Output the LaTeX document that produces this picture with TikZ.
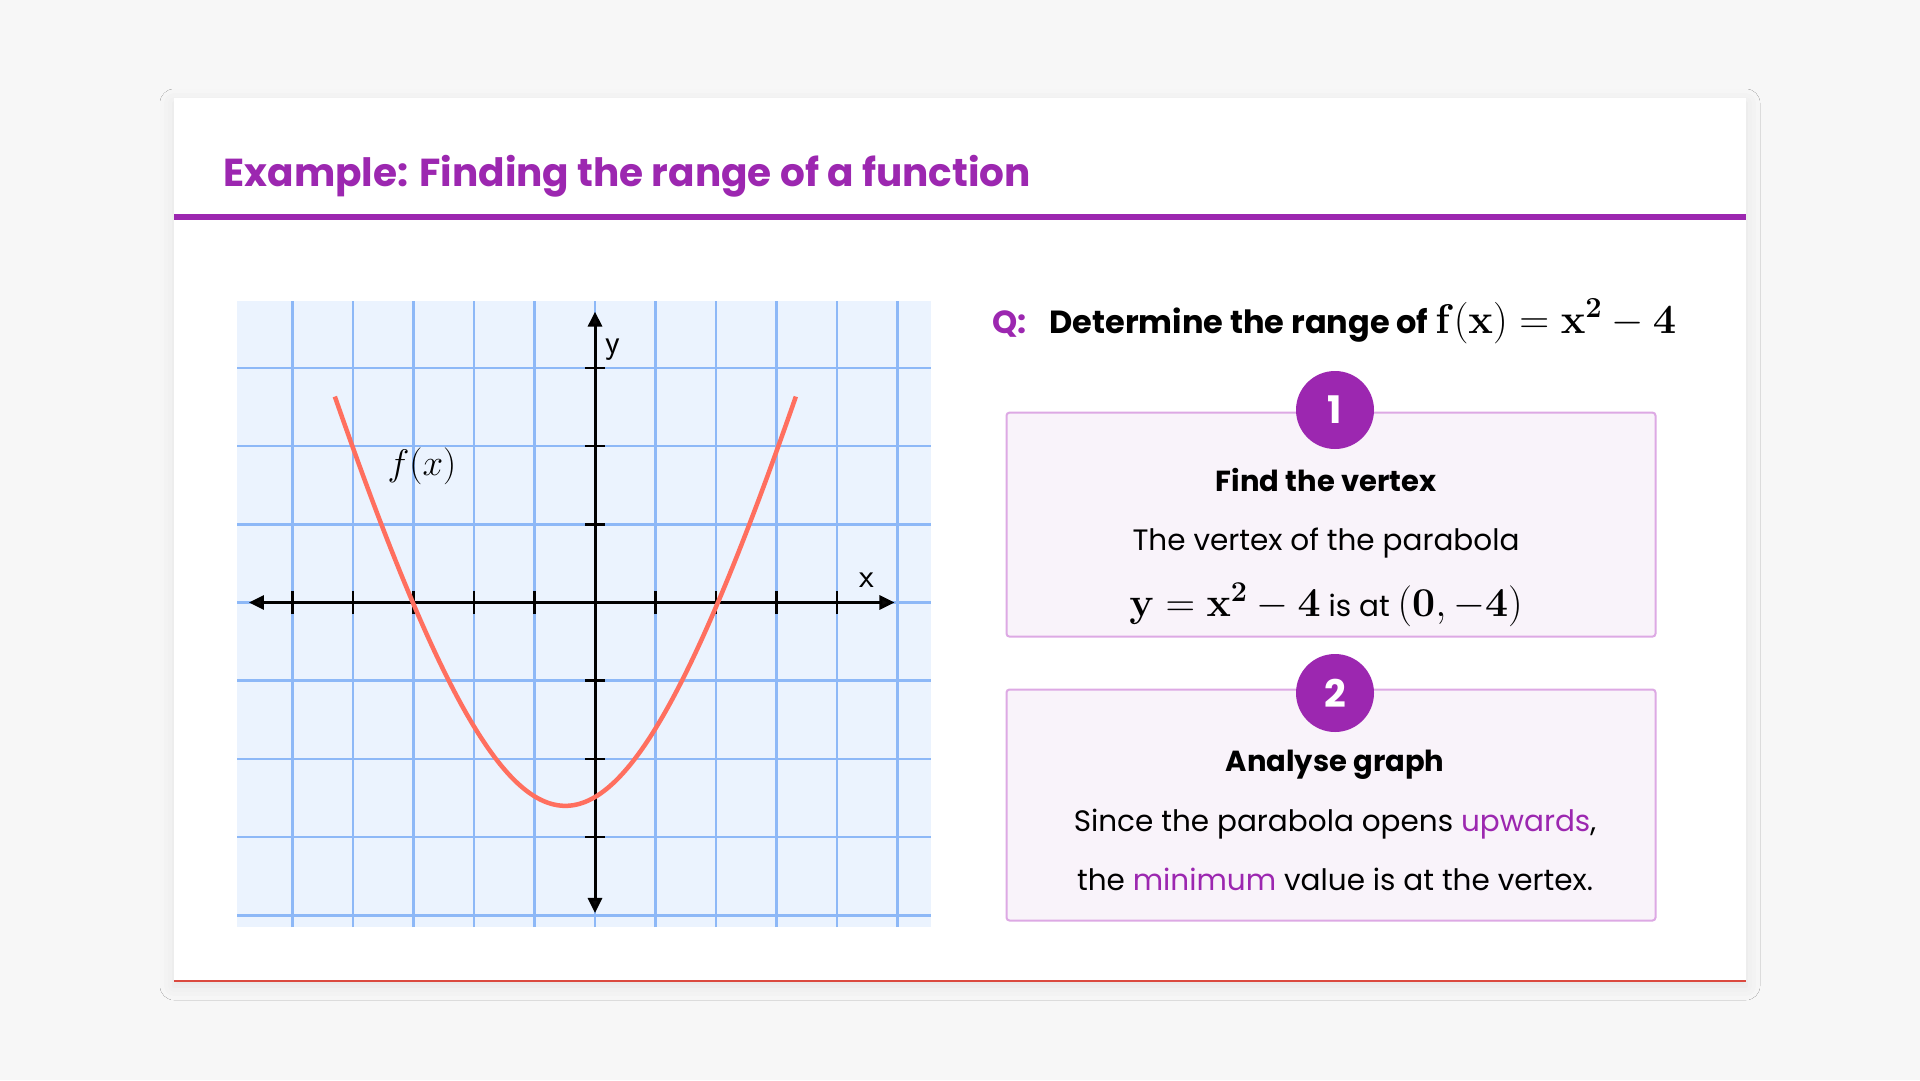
\documentclass[tikz,border=0pt]{standalone}
\usepackage{fix-cm}
\usepackage[no-math]{fontspec}
\setmainfont{Poppins}
\usetikzlibrary{arrows.meta,shadows.blur}
\definecolor{pagegray}{HTML}{F7F7F7}
\definecolor{accent}{HTML}{9C27B0}
\definecolor{stepfill}{HTML}{F9F3FA}
\definecolor{stepline}{HTML}{DDA9E4}
\definecolor{gridblue}{HTML}{8DB8F7}
\definecolor{panelblue}{HTML}{EBF3FE}
\definecolor{coral}{HTML}{FF6F5F}
\definecolor{edgered}{HTML}{DB4A3F}
\newcommand{\fs}[1]{\fontsize{#1}{#1}\selectfont}

\begin{document}
\begin{tikzpicture}
		[	x=1pt,y=-1pt,
		card/.style={fill=white,blur shadow={shadow xshift=0pt,shadow yshift=-5pt,shadow blur radius=14pt,shadow opacity=8}},
		stepbox/.style={rectangle,draw=stepline,fill=stepfill,line width=2pt,rounded corners=3pt,minimum width=649pt},
		badge/.style={circle,fill=accent,text=white,minimum size=78pt,inner sep=0pt,font=\bfseries\fs{38}},
		head/.style={font=\bfseries\fs{29},anchor=base},
		body/.style={font=\fs{29.5},anchor=base},
		gridline/.style={draw=gridblue,line width=2.5pt},
		axis/.style={line width=3pt,>={Triangle[length=15pt,width=14pt]},<->},
		tick/.style={line width=2.6pt},
		axislabel/.style={font=\sffamily\fs{34}}
		]
\useasboundingbox[fill=pagegray] (0,0) rectangle (1920,1080);
\fill[card] (174,98) rectangle (1746,981);
\draw[edgered,line width=1.2pt] (174,981) -- (1746,981);
\fill[accent] (174,214) rectangle (1746,220);
\node[anchor=base west,font=\bfseries\fs{39},text=accent] (title) at (220,186) {Example: Finding the range of a function};

% graph panel
\begin{scope}[shift={(595,602.5)},x=60.5pt,y=78.2pt]
	\fill[panelblue] (-5.91,-4.15) rectangle (5.55,3.86);
	\draw[gridline,step=1] (-5.91,-4.15) grid (5.55,3.86);
	\coordinate (xl) at (-5.72,0);
	\coordinate (xr) at (4.95,0);
	\coordinate (yb) at (0,-3.97);
	\coordinate (yt) at (0,3.72);
	\draw[axis] (xl) -- (xr);
	\draw[axis] (yb) -- (yt);
	\draw[tick] (-5,-.15) -- (-5,.15) (-4,-.15) -- (-4,.15) (-3,-.15) -- (-3,.15)
		(-2,-.15) -- (-2,.15) (-1,-.15) -- (-1,.15) (1,-.15) -- (1,.15)
		(2,-.15) -- (2,.15) (3,-.15) -- (3,.15) (4,-.15) -- (4,.15);
	\draw[tick] (-.16,3) -- (.16,3) (-.16,2) -- (.16,2) (-.16,1) -- (.16,1)
		(-.16,-1) -- (.16,-1) (-.16,-2) -- (.16,-2) (-.16,-3) -- (.16,-3);
	\draw[coral,line width=4.5pt] plot[domain=-4.3:3.32,samples=90,smooth] (\x,{-2.6+2.83*(sqrt(9+(\x+0.49)^2)-3)});
	\node[axislabel] (ylab) at (0.30,3.23) {y};
	\node[axislabel] (xlab) at (4.5,0.29) {x};
	\node[font=\fs{37}] (fx) at (-2.86,1.74) {$f(x)$};
\end{scope}

% question
\node[anchor=base west,font=\bfseries\fs{32},text=accent] (q) at (989,333) {Q:};
\node[anchor=base west,font=\bfseries\fs{32}] (question) at (1046,333) {Determine the range of {\fs{41.5}$\mathbf{f(x)=x^2-4}$}};

% step 1
\node[stepbox,minimum height=224pt] (vertexbox) at (1331,524.6) {};
\node[badge] (one) at (1335,410) {1};
\node[head] (vertexhead) at (1326,491) {Find the vertex};
\node[body] (vertextext) at (1326,550) {The vertex of the parabola};
\node[body] (vertexmath) at (1326,616) {{\fs{41}$\mathbf{y=x^2-4}$} is at {\fs{41}$\mathbf{(0,-4)}$}};

% step 2
\node[stepbox,minimum height=231pt] (graphbox) at (1331,805) {};
\node[badge] (two) at (1335,693) {2};
\node[head] (graphhead) at (1335,771) {Analyse graph};
\node[body] (graphtext) at (1335,831) {Since the parabola opens \textcolor{accent}{upwards},};
\node[body] (graphtextb) at (1335,890) {the \textcolor{accent}{minimum} value is at the vertex.};
\end{tikzpicture}
\end{document}
